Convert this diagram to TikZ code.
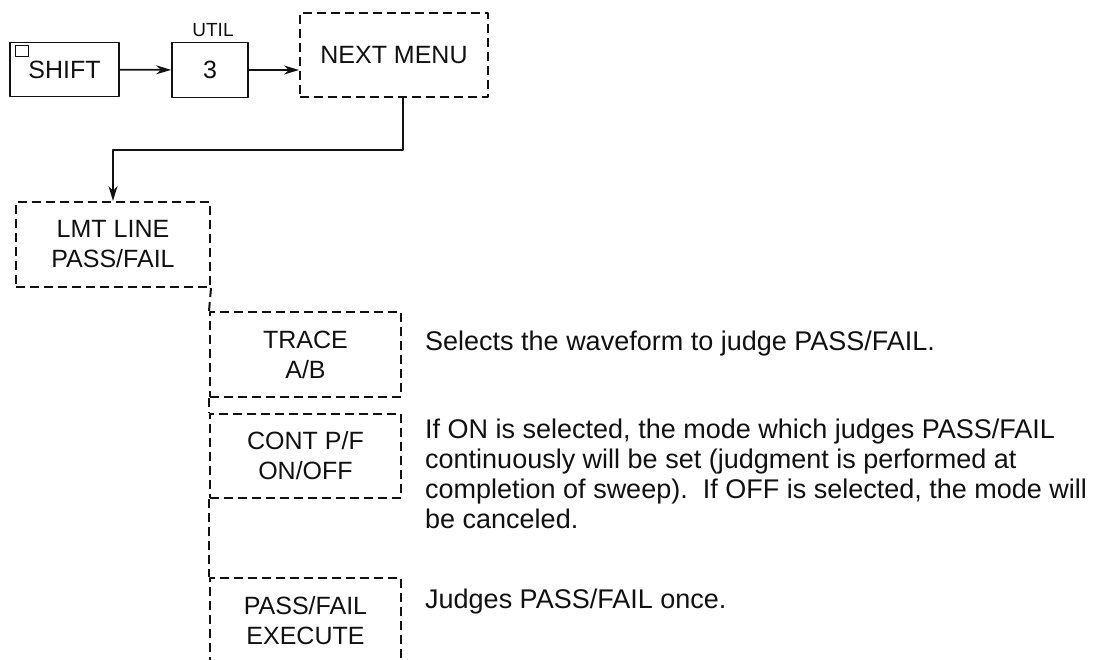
\documentclass[tikz,border=0pt]{standalone}
\usepackage{fontspec}
\setmainfont{Liberation Sans}
\usetikzlibrary{arrows.meta,positioning}
\definecolor{ink}{HTML}{111111}
\newcommand{\keyfontsize}{\fontsize{25}{30}\selectfont}
\newcommand{\notefontsize}{\fontsize{27}{30}\selectfont}
\tikzset{
  every picture/.style = {line join=round},
  keybox/.style        = {draw=ink, line width=1.8pt, inner sep=0pt, font=\keyfontsize, text=ink, align=center},
  menubox/.style       = {draw=ink, line width=2pt, dash pattern=on 9pt off 5pt, inner sep=0pt,
                          font=\keyfontsize, text=ink, align=center, minimum width=191pt, minimum height=85pt},
  spine/.style         = {draw=ink, line width=2pt, dash pattern=on 9pt off 5pt},
  note/.style          = {anchor=base west, inner sep=0pt, align=left, font=\notefontsize, text=ink},
  feed/.style          = {draw=ink, line width=1.8pt, -{Stealth[length=15pt, width=9pt]}},
}

\begin{document}
\begin{tikzpicture}[x=1pt, y=-1pt]
  \clip (0,0) rectangle (1103,659);

  % ---------- key sequence -------------------------------------------------
  \node[keybox, minimum width=109pt, minimum height=54pt] (shiftkey) at (64.5,69.5) {SHIFT};
  \draw[ink, line width=1.2pt] (shiftkey.north west) ++(6,4) rectangle ++(13,11);
  \node[keybox, minimum width=76pt, minimum height=55pt] (utilkey) at (210,70) {3};
  \node[font=\fontsize{19}{21}\selectfont, text=ink, above=1pt of utilkey, xshift=3pt] (utillbl) {UTIL};
  \node[menubox, minimum width=188pt, minimum height=84pt] (nextmenu) at (394,55) {NEXT MENU};

  \draw[feed] (shiftkey) -- (utilkey);
  \draw[feed] (utilkey.east) -- (utilkey.east -| nextmenu.west);

  % ---------- menu tree ----------------------------------------------------
  \node[menubox, minimum width=194pt] (lmtline) at (113,244.5) {LMT LINE\\PASS/FAIL};
  \coordinate (bend) at (403,150);
  \draw[feed] (nextmenu.south -| bend) -- (bend) -| (lmtline.north);

  \node[menubox] (trace)  at (305.5,354.5) {TRACE\\A/B};
  \node[menubox, minimum height=84pt] (contpf) at (305.5,456) {CONT P/F\\ON/OFF};
  \node[menubox] (pfexec) at (305.5,620.5) {PASS/FAIL\\EXECUTE};

  % dashed spine between the soft keys
  \draw[spine] (lmtline.south east) -- (trace.north west);
  \draw[spine] (trace.south west) -- (contpf.north west);
  \draw[spine] (contpf.south west) -- (pfexec.north west);

  % ---------- explanations (base = last line) ------------------------------
  \node[note] (tracenote) at (425,350) {Selects the waveform to judge PASS/FAIL.};
  \node[note] (contnote)  at (425,528) {If ON is selected, the mode which judges PASS/FAIL\\
    continuously will be set (judgment is performed at\\
    completion of sweep).\ \ If OFF is selected, the mode will\\
    be canceled.};
  \node[note] (execnote)  at (425,608) {Judges PASS/FAIL once.};
\end{tikzpicture}
\end{document}
